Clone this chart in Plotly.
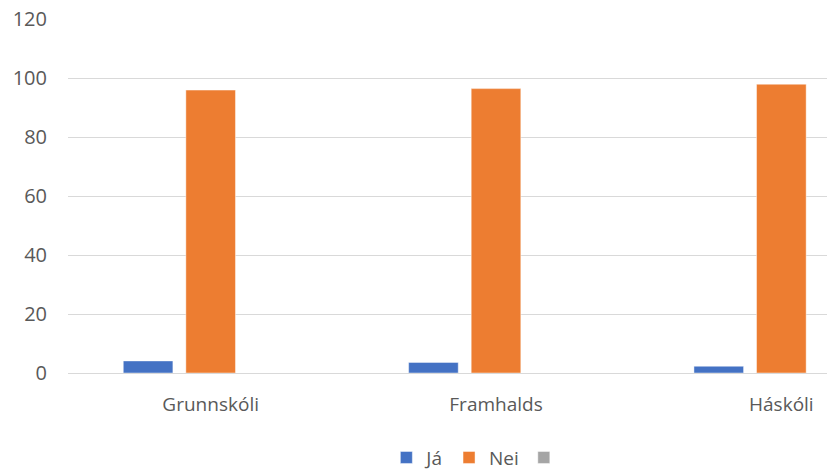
import plotly.graph_objects as go

categories = ["Grunnskóli", "Framhalds", "Háskóli"]
ja_values = [4.1, 3.6, 2.3]
nei_values = [95.9, 96.4, 97.9]
third_values = [0, 0, 0]
series_names = ["Já", "Nei", ""]
colors = ["#4472C4", "#ED7D31", "#A5A5A5"]
y_ticks = [0, 20, 40, 60, 80, 100, 120]

FONT = "Open Sans"
TXT = "#595959"
FS = 20

fig = go.Figure()
for name, vals, col in zip(series_names, [ja_values, nei_values, third_values], colors):
    fig.add_trace(go.Bar(
        x=categories, y=vals, name=name,
        marker=dict(color=col, line=dict(color="rgba(255,255,255,0.45)", width=1)),
        showlegend=True,
    ))

fig.update_layout(
    width=827, height=470,
    margin=dict(l=67.5, r=0, t=19, b=96.7, autoexpand=False),
    paper_bgcolor="white", plot_bgcolor="white",
    barmode="group", bargap=0.342, bargroupgap=0.207,
    font=dict(family=FONT, size=FS, color=TXT),
    legend=dict(orientation="h", x=0.54, xanchor="center", y=-0.239, yanchor="middle",
                font=dict(family=FONT, size=19, color=TXT), itemwidth=30,
                traceorder="normal", bgcolor="rgba(0,0,0,0)"),
    xaxis=dict(range=[-0.5, 2.16], showgrid=False, zeroline=False, showline=False,
               tickfont=dict(family=FONT, size=19, color=TXT), ticks="",
               ticklabelstandoff=18, automargin=False),
    yaxis=dict(range=[0, 120], tickvals=y_ticks, showgrid=True, gridcolor="#D9D9D9",
               gridwidth=1.3, zeroline=True, zerolinecolor="#D9D9D9", zerolinewidth=1.3,
               showline=False, ticks="", tickfont=dict(family=FONT, size=FS, color=TXT),
               ticklabelstandoff=20, automargin=False),
)

fig.write_html(
    "out.html",
    config={"displayModeBar": False},
    post_script="document.body.style.margin='0';document.body.style.overflow='hidden';",
)
